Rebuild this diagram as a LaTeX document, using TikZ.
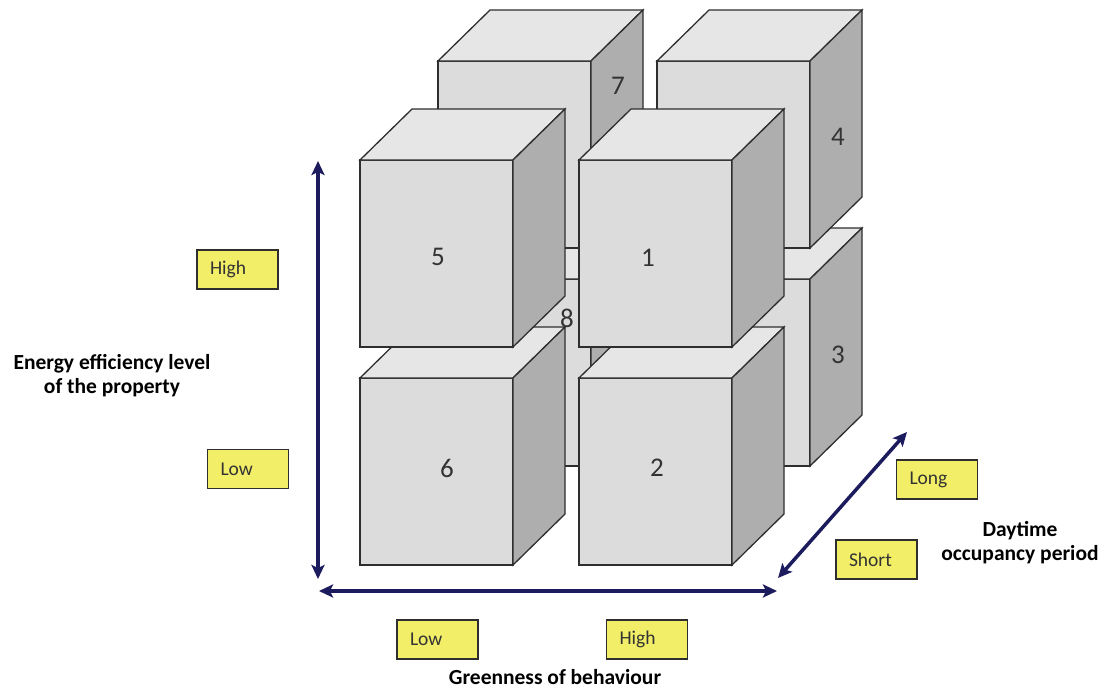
\documentclass[tikz,border=0pt]{standalone}
\usepackage{fontspec}
\setmainfont{Carlito}
\usetikzlibrary{arrows.meta}
\definecolor{frontc}{HTML}{DCDCDC}
\definecolor{topc}{HTML}{E6E6E6}
\definecolor{sidec}{HTML}{AEAEAE}
\definecolor{edgec}{HTML}{2E2E2E}
\definecolor{navy}{HTML}{1B1B5E}
\definecolor{boxy}{HTML}{F2EE68}
\definecolor{numc}{HTML}{333333}
\newcommand{\mycube}[2]{%
  \begin{scope}[shift={(#1,#2)}]
    \filldraw[cubeedge,fill=frontc] (0,0) rectangle (153,187);
    \filldraw[cubeedge,fill=topc] (0,0) -- (52,-51) -- (205,-51) -- (153,0) -- cycle;
    \filldraw[cubeedge,fill=sidec] (153,0) -- (205,-51) -- (205,136) -- (153,187) -- cycle;
  \end{scope}}
\begin{document}
\begin{tikzpicture}[x=1pt,y=-1pt,
  cubeedge/.style={draw=edgec,line width=1.3pt,line join=miter},
  num/.style={text=numc,font=\fontsize{27}{29}\selectfont,inner sep=0pt},
  ybox/.style={draw=edgec,fill=boxy,line width=1.2pt,minimum width=81pt,minimum height=39pt,
    text width=55pt,align=left,inner xsep=13pt,inner ysep=0pt,text=numc,
    font=\fontsize{19.5}{21}\selectfont},
  axlabel/.style={font=\fontsize{21.5}{24}\selectfont\bfseries,align=center,inner sep=0pt},
  axis/.style={draw=navy,line width=3.5pt,
    {Stealth[length=14pt,width=13pt,inset=3pt]}-{Stealth[length=14pt,width=13pt,inset=3pt]}}]
\useasboundingbox (0,0) rectangle (1104,689);
% back row: bottom then top
\mycube{438}{279}
\mycube{657}{279}
\mycube{438}{61}
\mycube{657}{61}
% front row: bottom then top
\mycube{360}{378}
\mycube{579}{378}
\mycube{360}{160}
\mycube{579}{160}
% numbers
\node[num] (n8) at (567,318) {8};
\node[num] (n3) at (838,355) {3};
\node[num] (n7) at (618,86) {7};
\node[num] (n4) at (838,137) {4};
\node[num] (n6) at (447,468) {6};
\node[num] (n2) at (657,468) {2};
\node[num] (n5) at (438,257) {5};
\node[num] (n1) at (648,258) {1};
% axes
\coordinate (vtop) at (318,161);
\coordinate (vbot) at (318,579);
\coordinate (hl) at (319,591);
\coordinate (hr) at (777,591);
\coordinate (dlo) at (778,578);
\coordinate (dhi) at (907,432);
\draw[axis] (vtop) -- (vbot);
\draw[axis] (hl) -- (hr);
\draw[axis] (dlo) -- (dhi);
% yellow boxes
\node[ybox] (hiE) at (237.5,269.5) {High};
\node[ybox] (loE) at (248,469) {Low};
\node[ybox] (loG) at (437.5,639.5) {Low};
\node[ybox] (hiG) at (647,639.5) {High};
\node[ybox] (lgD) at (937,479.5) {Long};
\node[ybox] (shD) at (876.5,559.5) {Short};
% axis titles
\node[axlabel] (tE) at (112,376) {Energy efficiency level\\of the property};
\node[axlabel] (tG) at (555,677) {Greenness of behaviour};
\node[axlabel] (tD) at (1020,543) {Daytime\\occupancy period};
\end{tikzpicture}
\end{document}
